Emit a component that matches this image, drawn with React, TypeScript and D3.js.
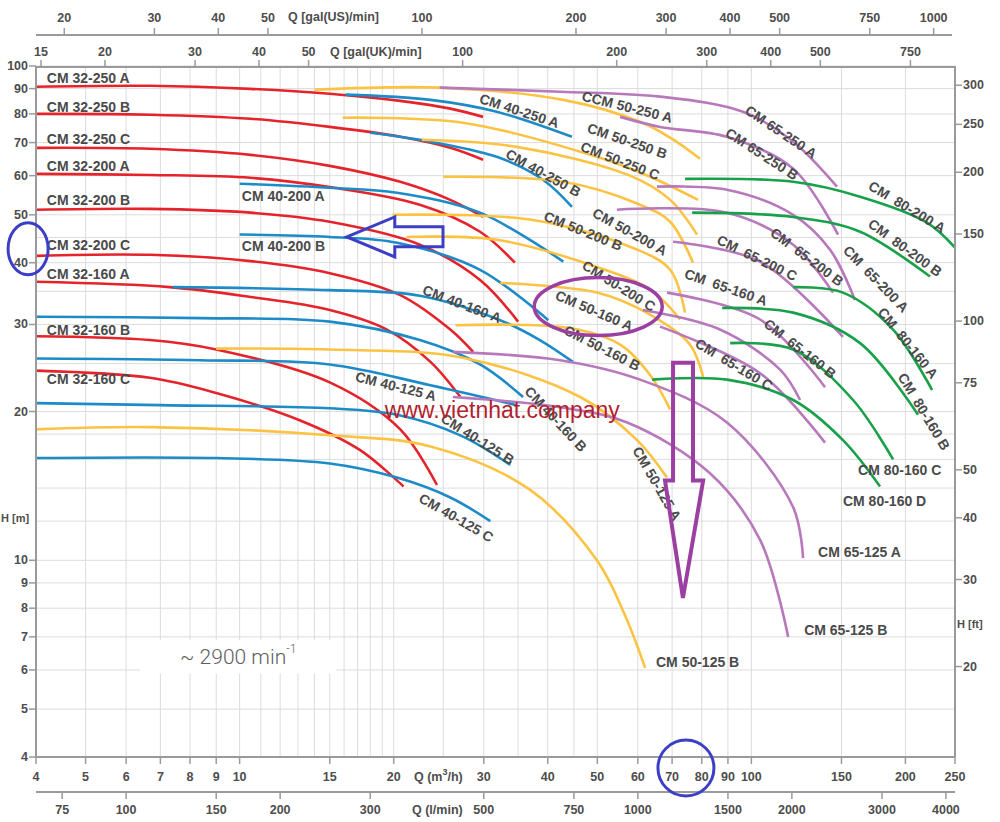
import React from 'react';
import * as d3 from 'd3';

// ---------- axis tick values ----------
const qTicks = [4, 5, 6, 7, 8, 9, 10, 15, 20, 30, 40, 50, 60, 70, 80, 90, 100, 150, 200, 250];
const lminTicks = [75, 100, 150, 200, 300, 500, 750, 1000, 1500, 2000, 3000, 4000];
const usTicks = [20, 30, 40, 50, 100, 200, 300, 400, 500, 750, 1000];
const ukTicks = [15, 20, 30, 40, 50, 100, 200, 300, 400, 500, 750];
const hTicks = [4, 5, 6, 7, 8, 9, 10, 20, 30, 40, 50, 60, 70, 80, 90, 100];
const ftTicks = [20, 30, 40, 50, 75, 100, 150, 200, 250, 300];
const qGrid = [4, 5, 6, 7, 8, 9, 10, 11, 12, 13, 14, 15, 16, 17, 18, 19, 20, 25, 30, 35, 40, 45, 50, 60, 70, 80, 90, 100, 150, 200, 250];
const hGrid = [4, 5, 6, 7, 8, 9, 10, 12, 14, 16, 18, 20, 25, 30, 35, 40, 45, 50, 60, 70, 80, 90, 100];

// ---------- pump curves [Q m3/h, H m] ----------
const cm32_250A = [[4, 90.8], [6.68, 91.2], [10.5, 89.9], [15, 87.9], [20.6, 85.0], [25.8, 82.0], [29.9, 78.9]];
const cm32_250B = [[4, 80.0], [6.68, 79.7], [10.5, 78.2], [15, 75.3], [20.6, 71.9], [25.8, 68.3], [29.9, 64.6]];
const cm32_250C = [[4, 68.3], [6.68, 68.0], [10.5, 66.1], [15, 62.8], [20.6, 58.3], [25.8, 53.6], [29.9, 49.5]];
const cm32_200A = [[4, 60.5], [6.68, 60.2], [10.5, 59.4], [15, 56.9], [22.5, 52.4], [29.5, 46.2], [34.5, 40.0]];
const cm32_200B = [[4, 51.2], [6.68, 51.4], [10.5, 50.5], [15, 48.4], [22.5, 43.5], [29.5, 36.9], [35, 30.4]];
const cm32_200C = [[4, 41.3], [6.68, 41.5], [10.5, 40.3], [15, 38.1], [20.6, 34.4], [25.8, 29.3], [28.6, 26.4]];
const cm32_160A = [[4, 36.6], [7.3, 35.7], [10.5, 34.1], [15, 32.1], [19.4, 29.3], [23.6, 25.2], [27, 21.4]];
const cm32_160B = [[4, 28.4], [6.68, 27.9], [9, 26.7], [15, 22.9], [20.6, 18.4], [24.3, 14.2]];
const cm32_160C = [[4, 24.2], [6.68, 23.4], [9, 21.8], [13.1, 19.2], [17.2, 16.7], [20.9, 14.1]];

const cm40_250A = [[16.1, 87.5], [23.6, 85.4], [31.8, 80.8], [44.6, 71.9]];
const cm40_250B = [[18, 73.3], [22.5, 70.9], [31.8, 65.5], [39.2, 58.8], [44.6, 51.9]];
const cm40_200A = [[10, 57.8], [15, 56.7], [20.3, 55.4], [29.5, 50.5], [42.9, 40.2]];
const cm40_200B = [[10, 45.6], [15, 45.1], [20.3, 43.9], [29.5, 38.7], [40.1, 30.6]];
const cm40_160A = [[7.4, 35.7], [15, 35.2], [22.5, 34.3], [32.3, 30.6], [38.6, 27.9], [44.8, 25.2]];
const cm40_160B = [[4, 31.1], [8.37, 30.9], [15, 30.4], [22.5, 27.9], [29.5, 24.9], [35.8, 21.4]];
const cm40_125A = [[4, 25.6], [8.37, 25.4], [15, 24.9], [23.6, 22.6], [34.8, 20.6]];
const cm40_125B = [[4, 20.8], [7, 20.6], [15, 20.3], [20.3, 19.7], [27, 17.9], [33.8, 15.6]];
const cm40_125C = [[4, 16.1], [9, 16.1], [15, 15.7], [20.3, 14.7], [25.8, 13.4], [30.9, 12.0]];

const cm50_250A = [[14.0, 89.5], [24.6, 90.4], [42.9, 85.4], [60.6, 77.1], [69.4, 71.6], [79.4, 64.9]];
const cm50_250B = [[15.9, 78.6], [27.3, 76.8], [49.9, 65.5], [63.4, 59.7], [78.7, 53.6]];
const cm50_250C = [[22.7, 70.9], [34.8, 68.6], [57.9, 60.0], [69.4, 53.6], [78.3, 45.6]];
const cm50_200A = [[25.0, 59.7], [42.9, 58.3], [60.6, 52.4], [69.4, 48.4], [76.9, 40.0]];
const cm50_200B = [[19.9, 50.0], [36.9, 48.9], [57.9, 43.1], [69.4, 38.7], [74.2, 31.7]];
const cm50_200C = [[21.2, 45.1], [31.8, 44.5], [49.9, 39.2], [63.4, 35.3], [72.6, 30.7]];
const cm50_160A = [[32.3, 36.4], [49.9, 34.8], [63.4, 31.4], [75.9, 27.3], [80.5, 23.5]];
const cm50_160B = [[26.4, 29.9], [44.2, 29.5], [55.4, 27.3], [63.4, 23.7], [69.4, 20.2]];
const cm50_125A = [[9.0, 26.8], [15.0, 26.7], [27.3, 25.7], [46.3, 21.4], [59.8, 17.5], [68.4, 14.7]];
const cm50_125B = [[4, 18.4], [6.68, 18.6], [15, 17.9], [23.6, 17.0], [36.9, 13.9], [49.9, 10.0], [56.6, 7.75], [62.0, 6.06]];

const cm65_250A = [[24.6, 90.4], [42.3, 88.7], [66.3, 86.7], [96.3, 80.8], [120.7, 70.3], [147, 57.0]];
const cm65_250B = [[55.4, 78.9], [66.3, 75.3], [89.6, 71.9], [120.7, 62.0], [147.7, 45.6]];
const cm65_200A = [[65.4, 57.0], [89.6, 56.2], [120.7, 50.0], [142.5, 42.5], [159.4, 33.6]];
const cm65_200B = [[54.6, 51.2], [89.6, 50.5], [120.7, 43.5], [144.4, 34.8]];
const cm65_200C = [[70.3, 44.1], [104, 40.2], [151, 28.3]];
const cm65_160A = [[68.4, 34.8], [104, 30.7], [139.3, 22.4]];
const cm65_160B = [[66.3, 29.7], [104, 23.9], [139.3, 17.3]];
const cm65_160C = [[61.4, 32.1], [86.8, 29.3], [113.8, 24.3], [124.5, 21.1]];
const cm65_125A = [[26.1, 26.4], [42.3, 25.4], [60.6, 23.2], [89.6, 19.0], [120.7, 12.8], [126.2, 10.1]];
const cm65_125B = [[26.1, 21.4], [42.3, 20.4], [57.2, 19.0], [83, 15.0], [104, 11.0], [118, 7.0]];

const cm80_200A = [[74.2, 59.1], [120.7, 58.3], [163.1, 54.4], [220.4, 48.2], [250, 42.9]];
const cm80_200B = [[76.6, 50.5], [120.7, 49.5], [163.1, 46.2], [223.4, 37.5]];
const cm80_160A = [[120.7, 35.7], [151, 34.8], [189.2, 29.3], [225.4, 22.1]];
const cm80_160B = [[87.7, 32.4], [120.7, 31.7], [163.1, 27.5], [211.7, 19.7]];
const cm80_160C = [[90.9, 27.5], [120.7, 26.7], [158, 21.1], [189.2, 16.0]];
const cm80_160D = [[64.0, 23.2], [89.6, 23.2], [120.7, 21.1], [151, 17.5], [178.4, 14.1]];

const curves = [
  { family: '32', pts: cm32_250A }, { family: '32', pts: cm32_250B }, { family: '32', pts: cm32_250C },
  { family: '32', pts: cm32_200A }, { family: '32', pts: cm32_200B }, { family: '32', pts: cm32_200C },
  { family: '32', pts: cm32_160A }, { family: '32', pts: cm32_160B }, { family: '32', pts: cm32_160C },
  { family: '40', pts: cm40_250A }, { family: '40', pts: cm40_250B }, { family: '40', pts: cm40_200A },
  { family: '40', pts: cm40_200B }, { family: '40', pts: cm40_160A }, { family: '40', pts: cm40_160B },
  { family: '40', pts: cm40_125A }, { family: '40', pts: cm40_125B }, { family: '40', pts: cm40_125C },
  { family: '50', pts: cm50_250A }, { family: '50', pts: cm50_250B }, { family: '50', pts: cm50_250C },
  { family: '50', pts: cm50_200A }, { family: '50', pts: cm50_200B }, { family: '50', pts: cm50_200C },
  { family: '50', pts: cm50_160A }, { family: '50', pts: cm50_160B }, { family: '50', pts: cm50_125A },
  { family: '50', pts: cm50_125B },
  { family: '65', pts: cm65_250A }, { family: '65', pts: cm65_250B }, { family: '65', pts: cm65_200A },
  { family: '65', pts: cm65_200B }, { family: '65', pts: cm65_200C }, { family: '65', pts: cm65_160A },
  { family: '65', pts: cm65_160B }, { family: '65', pts: cm65_160C }, { family: '65', pts: cm65_125A },
  { family: '65', pts: cm65_125B },
  { family: '80', pts: cm80_200A }, { family: '80', pts: cm80_200B }, { family: '80', pts: cm80_160A },
  { family: '80', pts: cm80_160B }, { family: '80', pts: cm80_160C }, { family: '80', pts: cm80_160D },
];

// ---------- curve labels: text, anchor point (Q, H), rotation ----------
const labelText = [
  'CM 32-250 A', 'CM 32-250 B', 'CM 32-250 C', 'CM 32-200 A', 'CM 32-200 B', 'CM 32-200 C',
  'CM 32-160 A', 'CM 32-160 B', 'CM 32-160 C', 'CM 40-200 A', 'CM 40-200 B',
  'CM 40-250 A', 'CCM 50-250 A', 'CM 50-250 B', 'CM 50-250 C', 'CM 40-250 B', 'CM 50-200 A',
  'CM 50-200 B', 'CM 50-200 C', 'CM 50-160 A', 'CM 50-160 B', 'CM 40-160 A', 'CM 40-125 A',
  'CM 40-125 B', 'CM 40-125 C', 'CM 40-160 B', 'CM 50-125 A', 'CM 65-250 A', 'CM 65-250 B',
  'CM  80-200 A', 'CM  80-200 B', 'CM  65-200 B', 'CM  65-200 A', 'CM  65-200 C', 'CM  65-160 A',
  'CM  80-160 A', 'CM  65-160 B', 'CM  65-160 C', 'CM  80-160 B',
  'CM 80-160 C', 'CM 80-160 D', 'CM 65-125 A', 'CM 65-125 B', 'CM 50-125 B',
];
const labelQ = [4.2, 4.2, 4.2, 4.2, 4.2, 4.2, 4.2, 4.2, 4.2, 10.1, 10.1,
  35.2, 57.2, 57.2, 55.4, 39.2, 57.9, 46.9, 55.1, 49.3, 51.1, 27.2, 20.2, 29.2, 26.5, 41.5, 65.4,
  114.3, 104.9, 201.5, 199.7, 128.5, 175.2, 102.6, 89.2, 202.4, 124.5, 92.5, 217.5,
  161.6, 151, 135, 126.8, 65.1];
const labelH = [94.7, 82.7, 71.2, 62.8, 53.6, 43.5, 38.0, 29.3, 23.3, 54.6, 43.3,
  81.2, 82.7, 70.6, 64.3, 60.8, 46.2, 46.4, 35.9, 32.0, 26.9, 33.0, 22.5, 17.6, 12.2, 19.3, 14.3,
  73.6, 66.4, 51.9, 42.9, 41.1, 37.1, 40.9, 35.7, 27.5, 26.8, 24.9, 20.0,
  15.2, 13.2, 10.4, 7.23, 6.23];
const labelAngle = [0, 0, 0, 0, 0, 0, 0, 0, 0, 0, 0,
  18, 14, 19, 21, 29, 29, 22, 32, 23, 27, 21, 14, 32, 30, 47, 60,
  34, 33, 31, 36, 37, 46, 26, 19, 51, 38, 31, 59,
  0, 0, 0, 0, 0];

// ---------- annotations (drawn over the chart) ----------
const blueArrow = [[16.2, 45.1], [20.1, 49.5], [20.1, 47.3], [24.97, 47.3], [24.97, 43.1], [20.1, 43.1], [20.1, 41.1]];
const purpleArrow = [[70.3, 25.1], [76.9, 25.1], [76.9, 14.5], [80.5, 14.5], [73.5, 8.39], [67.8, 14.5], [70.3, 14.5]];

const COLORS: Record<string, string> = {
  '32': '#e5232b',
  '40': '#1d8bc7',
  '50': '#fcc343',
  '65': '#b878bc',
  '80': '#18a04a',
};

const x = d3.scaleLog().domain([4, 250]).range([36, 955]);
const y = d3.scaleLog().domain([4, 100]).range([757, 66]);
const US = 0.227125; // m3/h per US gpm
const UK = 0.272765; // m3/h per UK gpm
const LMIN = 0.06;   // m3/h per l/min
const FT = 0.3048;   // m per ft

const line = d3.line<number[]>()
  .x((d) => x(d[0]))
  .y((d) => y(d[1]))
  .curve(d3.curveCatmullRom.alpha(0.5));

const FONT = "Arial, 'Liberation Sans', Helvetica, sans-serif";
const AX = '#9a9a9a';
const TXT = '#4d4d4d';

export default function App() {
  const left = x(4), right = x(250), top = y(100), bottom = y(4);
  const usY = 35, ukY = top + 1, lY = 792;

  return (
    <svg width={1000} height={822} style={{ position: 'absolute', left: 0, top: 0, background: '#fff' }}
      fontFamily={FONT}>
      <rect x={0} y={0} width={1000} height={822} fill="#fff" />
      {/* grid */}
      <g stroke="#dcdcdc" strokeWidth={1}>
        {qGrid.map((q) => <line key={'gq' + q} x1={x(q)} x2={x(q)} y1={top} y2={bottom} />)}
        {hGrid.map((h) => <line key={'gh' + h} x1={left} x2={right} y1={y(h)} y2={y(h)} />)}
      </g>

      {/* rpm label box */}
      <rect x={x(6.39)} y={y(6.9)} width={x(15.4) - x(6.39)} height={y(5.9) - y(6.9)} fill="#fff" />
      <text x={x(7.65)} y={y(6.37)} fontFamily="Roboto, 'Open Sans', sans-serif" fontWeight={300}
        fontSize={21} fill="#5e5e5e" dominantBaseline="central">
        ~ 2900 min<tspan dy={-8} fontSize={12}>-1</tspan>
      </text>

      {/* curves */}
      <g fill="none" strokeWidth={2.6} strokeLinecap="butt">
        {curves.map((c, i) => (
          <path key={'c' + i} d={line(c.pts) || ''} stroke={COLORS[c.family]} />
        ))}
      </g>

      {/* left axis */}
      <g>
        <line x1={left} x2={left} y1={top} y2={bottom} stroke={AX} strokeWidth={2} />
        {hTicks.map((h) => (
          <g key={'ht' + h}>
            <line x1={left - 7} x2={left} y1={y(h)} y2={y(h)} stroke={AX} strokeWidth={1.5} />
            <text x={left - 8} y={y(h)} textAnchor="end" dominantBaseline="central" fontSize={12.5}
              fontWeight="bold" fill={TXT}>{h}</text>
          </g>
        ))}
        <text x={1} y={518} dominantBaseline="central" fontSize={11} fontWeight="bold" fill={TXT}>H [m]</text>
      </g>

      {/* right axis (ft) */}
      <g>
        <line x1={right} x2={right} y1={top} y2={bottom} stroke={AX} strokeWidth={2} />
        {ftTicks.map((f) => (
          <g key={'ft' + f}>
            <line x1={right} x2={right + 7} y1={y(f * FT)} y2={y(f * FT)} stroke={AX} strokeWidth={1.5} />
            <text x={right + 8} y={y(f * FT)} dominantBaseline="central" fontSize={12.5}
              fontWeight="bold" fill={TXT}>{f}</text>
          </g>
        ))}
        <text x={957} y={624} dominantBaseline="central" fontSize={11} fontWeight="bold" fill={TXT}>H [ft]</text>
      </g>

      {/* bottom axis m3/h */}
      <g>
        <line x1={left} x2={right} y1={bottom} y2={bottom} stroke={AX} strokeWidth={2} />
        {qTicks.map((q) => (
          <g key={'qt' + q}>
            <line x1={x(q)} x2={x(q)} y1={bottom} y2={bottom + 7} stroke={AX} strokeWidth={1.5} />
            <text x={x(q)} y={777} textAnchor="middle" dominantBaseline="central" fontSize={12.5}
              fontWeight="bold" fill={TXT}>{q}</text>
          </g>
        ))}
        <text x={414} y={777} dominantBaseline="central" fontSize={12.5} fontWeight="bold" fill={TXT}>
          Q (m<tspan dy={-5} fontSize={9}>3</tspan><tspan dy={5}>/h)</tspan>
        </text>
      </g>

      {/* bottom axis l/min */}
      <g>
        <line x1={left} x2={right} y1={lY} y2={lY} stroke={AX} strokeWidth={2} />
        {lminTicks.map((v) => (
          <g key={'lt' + v}>
            <line x1={x(v * LMIN)} x2={x(v * LMIN)} y1={lY} y2={lY + 7} stroke={AX} strokeWidth={1.5} />
            <text x={x(v * LMIN)} y={810} textAnchor="middle" dominantBaseline="central" fontSize={12.5}
              fontWeight="bold" fill={TXT}>{v}</text>
          </g>
        ))}
        <text x={412} y={810} dominantBaseline="central" fontSize={12.5} fontWeight="bold" fill={TXT}>Q (l/min)</text>
      </g>

      {/* top axis US gpm */}
      <g>
        <line x1={left} x2={952} y1={usY} y2={usY} stroke={AX} strokeWidth={2} />
        {usTicks.map((v) => (
          <g key={'us' + v}>
            <line x1={x(v * US)} x2={x(v * US)} y1={usY - 7} y2={usY} stroke={AX} strokeWidth={1.5} />
            <text x={x(v * US)} y={18} textAnchor="middle" dominantBaseline="central" fontSize={12.5}
              fontWeight="bold" fill={TXT}>{v}</text>
          </g>
        ))}
        <text x={288} y={17} dominantBaseline="central" fontSize={12.5} fontWeight="bold" fill={TXT}>Q [gal(US)/min]</text>
      </g>

      {/* top axis UK gpm */}
      <g>
        <line x1={left} x2={right} y1={ukY} y2={ukY} stroke={AX} strokeWidth={2} />
        {ukTicks.map((v) => (
          <g key={'uk' + v}>
            <line x1={x(v * UK)} x2={x(v * UK)} y1={ukY - 7} y2={ukY} stroke={AX} strokeWidth={1.5} />
            <text x={x(v * UK)} y={52} textAnchor="middle" dominantBaseline="central" fontSize={12.5}
              fontWeight="bold" fill={TXT}>{v}</text>
          </g>
        ))}
        <text x={330} y={52} dominantBaseline="central" fontSize={12.5} fontWeight="bold" fill={TXT}>Q [gal(UK)/min]</text>
      </g>

      {/* curve labels */}
      <g fontSize={14} fontWeight="bold" fill="#4a4a4a">
        {labelText.map((t, i) => {
          const rotated = labelAngle[i] !== 0;
          const px = x(labelQ[i]);
          const py = y(labelH[i]);
          return (
            <text key={'lb' + i} transform={`translate(${px},${py}) rotate(${labelAngle[i]})`}
              textAnchor={rotated ? 'middle' : 'start'} dominantBaseline="central"
              style={{ whiteSpace: 'pre' }}>{t}</text>
          );
        })}
      </g>

      {/* watermark */}
      <text x={x(32.6)} y={y(20.1)} textAnchor="middle" dominantBaseline="central" fontSize={23}
        fill="#b21f2e" fontFamily={FONT}>www.vietnhat.company</text>

      {/* annotations */}
      <ellipse cx={x(3.86)} cy={y(42.7)} rx={20} ry={26} fill="none" stroke="#3c3fc6" strokeWidth={3} />
      <polygon points={blueArrow.map((p) => `${x(p[0])},${y(p[1])}`).join(' ')} fill="none"
        stroke="#3c3fc6" strokeWidth={3} />
      <ellipse cx={x(50.2)} cy={y(32.6)} rx={64} ry={29} fill="none" stroke="#9b3fa3" strokeWidth={3.5} />
      <polygon points={purpleArrow.map((p) => `${x(p[0])},${y(p[1])}`).join(' ')} fill="none"
        stroke="#9b3fa3" strokeWidth={4} />
      <circle cx={x(74.5)} cy={y(3.8)} r={28} fill="none" stroke="#3c3fc6" strokeWidth={3} />
    </svg>
  );
}
